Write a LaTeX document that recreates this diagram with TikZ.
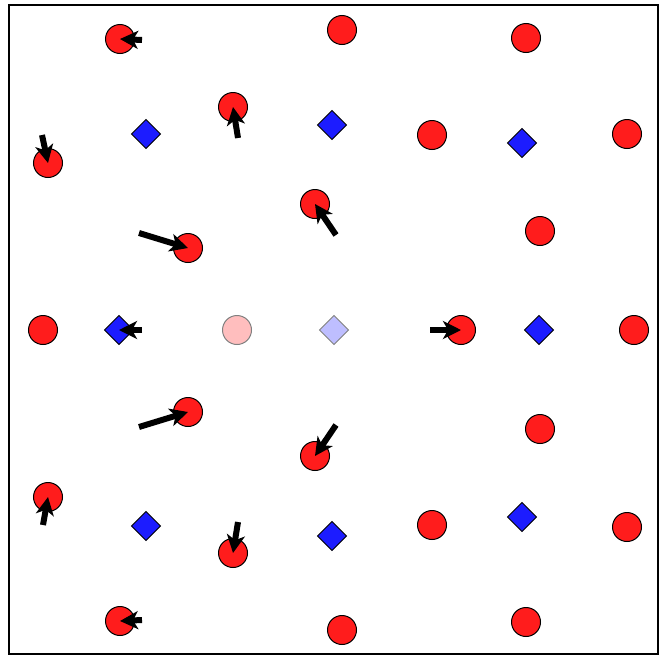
\documentclass[tikz,border=0pt]{standalone}
\usetikzlibrary{arrows.meta}
\definecolor{myred}{RGB}{255,28,28}
\definecolor{myblue}{RGB}{28,28,255}
\definecolor{palered}{RGB}{255,190,190}
\definecolor{paleblue}{RGB}{190,190,255}
\begin{document}
\begin{tikzpicture}[x=1pt,y=-1pt,
  dot/.style={circle,draw=black,line width=1pt,fill=myred,minimum size=29pt,inner sep=0pt},
  gem/.style={shape=rectangle,draw=black,line width=1pt,fill=myblue,minimum size=20.5pt,inner sep=0pt,rotate=45},
  ghostdot/.style={dot,draw=gray,fill=palered},
  ghostgem/.style={gem,draw=gray,fill=paleblue},
  arr/.style={line width=6pt,-{Stealth[length=18pt,width=18pt,inset=5pt]}}]
\useasboundingbox (0,0) rectangle (663,656);
\draw[line width=2pt] (9,5) rectangle (658,654);
% circles
\node[dot] (c1) at (120,39) {};
\node[dot] (c2) at (342,30) {};
\node[dot] (c3) at (526,38) {};
\node[dot] (c4) at (233,107) {};
\node[dot] (c5) at (48,163) {};
\node[dot] (c6) at (432,135) {};
\node[dot] (c7) at (627,134) {};
\node[dot] (c8) at (315,204) {};
\node[dot] (c9) at (188,248) {};
\node[dot] (c10) at (540,231) {};
\node[dot] (c11) at (43,330) {};
\node[ghostdot] (c12) at (237,330) {};
\node[dot] (c13) at (461,330) {};
\node[dot] (c14) at (634,330) {};
\node[dot] (c15) at (188,412) {};
\node[dot] (c16) at (315,456) {};
\node[dot] (c17) at (540,429) {};
\node[dot] (c18) at (48,497) {};
\node[dot] (c19) at (432,525) {};
\node[dot] (c20) at (627,527) {};
\node[dot] (c21) at (233,553) {};
\node[dot] (c22) at (120,621) {};
\node[dot] (c23) at (342,630) {};
\node[dot] (c24) at (526,622) {};
% diamonds
\node[gem] (d1) at (146,134) {};
\node[gem] (d2) at (332,125) {};
\node[gem] (d3) at (522,143) {};
\node[gem] (d4) at (119,330) {};
\node[ghostgem] (d5) at (334,330) {};
\node[gem] (d6) at (539,330) {};
\node[gem] (d7) at (146,526) {};
\node[gem] (d8) at (332,536) {};
\node[gem] (d9) at (522,517) {};
% arrow tails
\coordinate (t1) at (142,40);
\coordinate (t4) at (238,138);
\coordinate (t5) at (42,135);
\coordinate (t8) at (336,235);
\coordinate (t9) at (139,233);
\coordinate (t13) at (430,330);
\coordinate (td4) at (142,330);
\coordinate (t15) at (139,427);
\coordinate (t16) at (336,425);
\coordinate (t18) at (43,525);
\coordinate (t21) at (238,522);
\coordinate (t22) at (142,620);
\draw[arr] (t1) -- (c1.center);
\draw[arr] (t4) -- (c4.center);
\draw[arr] (t5) -- (c5.center);
\draw[arr] (t8) -- (c8.center);
\draw[arr] (t9) -- (c9.center);
\draw[arr] (t13) -- (c13.center);
\draw[arr] (td4) -- (d4.center);
\draw[arr] (t15) -- (c15.center);
\draw[arr] (t16) -- (c16.center);
\draw[arr] (t18) -- (c18.center);
\draw[arr] (t21) -- (c21.center);
\draw[arr] (t22) -- (c22.center);
\end{tikzpicture}
\end{document}
